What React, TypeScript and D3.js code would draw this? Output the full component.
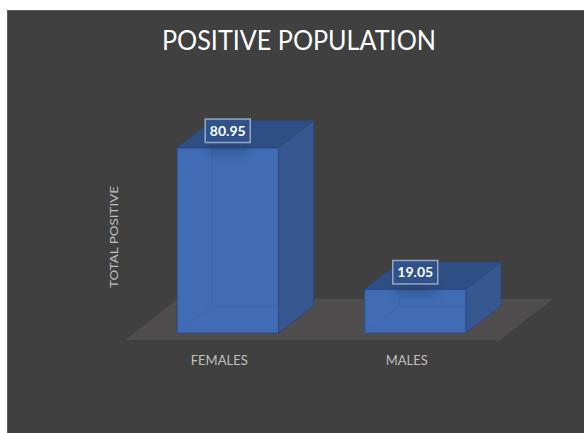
import React from 'react';
import * as d3 from 'd3';

const categories = ['FEMALES', 'MALES'];
const values = [80.95, 19.05];
const valueLabels = ['80.95', '19.05'];
const titleText = 'POSITIVE POPULATION';
const yTitle = 'TOTAL POSITIVE';

const width = 584;
const height = 433;
const baseY = 333;
// 3d offset of the back face of each bar
const depthX = 35;
const depthY = -27;

const xScale = d3.scaleBand<string>()
  .domain(categories)
  .range([134, 509])
  .paddingInner(0.46)
  .paddingOuter(0.23);

const yScale = d3.scaleLinear()
  .domain([0, 100])
  .range([baseY, baseY - 228.5]);

const poly = d3.line<[number, number]>().x((d) => d[0]).y((d) => d[1]);
const closed = (pts: [number, number][]) => (poly(pts) || '') + 'Z';

const edge = '#2a4c86';

export default function App() {
  const floor = closed([[125, 340], [500, 340], [553, 299], [178, 299]]);

  return (
    <svg
      width={width}
      height={height}
      viewBox={`0 0 ${width} ${height}`}
      style={{ position: 'absolute', left: 0, top: 0, background: '#fff', fontFamily: 'Lato, "Open Sans", sans-serif' }}
    >
      <defs>
        <filter id="labelShadow" x="-40%" y="-40%" width="180%" height="200%">
          <feGaussianBlur stdDeviation="5" />
        </filter>
      </defs>

      {/* chart area */}
      <rect x={7} y={10} width={width - 7} height={height - 10} fill="#404040" />
      <path d={`M7.5,${height}V10.5H${width}`} fill="none" stroke="#5e5e5e" strokeWidth="1" />

      <text x={299} y={50} textAnchor="middle" fontSize="27" fill="#ffffff" textLength={274} lengthAdjust="spacingAndGlyphs">
        {titleText}
      </text>

      <path d={floor} fill="#4f4d4d" />

      <text
        transform="translate(118,237) rotate(-90)"
        textAnchor="middle"
        fontSize="12"
        fill="#bfbfbf"
        textLength={102}
        lengthAdjust="spacingAndGlyphs"
      >
        {yTitle}
      </text>

      {categories.map((cat, i) => {
        const x0 = xScale(cat) as number;
        const x1 = x0 + xScale.bandwidth();
        const yTop = yScale(values[i]);
        const cx = (x0 + x1) / 2;
        return (
          <g key={cat}>
            <path
              d={closed([[x0, yTop], [x1, yTop], [x1 + depthX, yTop + depthY], [x0 + depthX, yTop + depthY]])}
              fill="#2f4f84"
              stroke={edge}
              strokeWidth="1"
            />
            <path
              d={closed([[x1, yTop], [x1 + depthX, yTop + depthY], [x1 + depthX, baseY + depthY], [x1, baseY]])}
              fill="#36578f"
              stroke={edge}
              strokeWidth="1"
            />
            <path
              d={closed([[x0, yTop], [x1, yTop], [x1, baseY], [x0, baseY]])}
              fill="#416cb4"
              stroke={edge}
              strokeWidth="1"
            />
            {/* faint inner lines seen through the bar */}
            <path
              d={`M${x0 + depthX},${yTop}V${baseY + depthY}H${x1}M${x0},${baseY}L${x0 + depthX},${baseY + depthY}`}
              fill="none"
              stroke="#3d66ad"
              strokeWidth="1"
            />
            <rect x={cx - 20} y={yTop - 14} width={42} height={20} fill="#23416f" opacity={0.4} filter="url(#labelShadow)" />
            <rect
              x={cx - 22.5}
              y={yTop - 29}
              width={45}
              height={23.5}
              fill="#30528a"
              stroke="#98a6bd"
              strokeWidth="1.5"
            />
            <text x={cx} y={yTop - 12.5} textAnchor="middle" fontSize="14" fontWeight="700" fill="#ffffff">
              {valueLabels[i]}
            </text>
            <text x={cx - 8.5} y={365} textAnchor="middle" fontSize="13" fill="#bfbfbf">
              {cat}
            </text>
          </g>
        );
      })}
    </svg>
  );
}
